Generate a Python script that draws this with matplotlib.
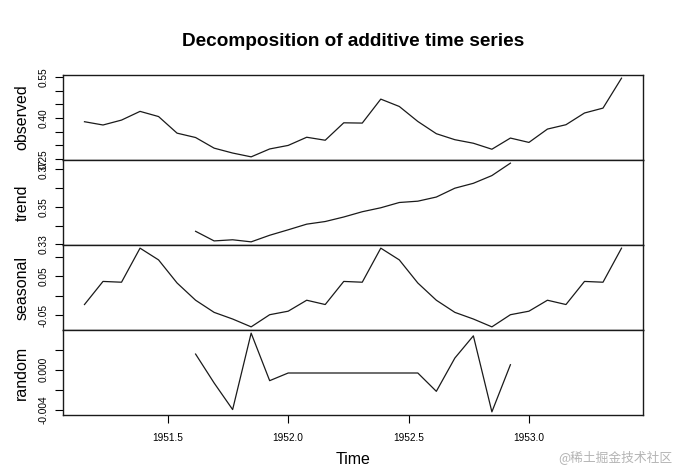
import numpy as np
import matplotlib
matplotlib.use("Agg")
import matplotlib.pyplot as plt

plt.rcParams['font.family'] = ['Liberation Sans', 'DejaVu Sans']

# Series: ts(start = c(1951, 3), frequency = 13), 30 observations
start_year = 1951
start_period = 3
frequency = 13
n_obs = 30

observed = [0.386, 0.374, 0.392, 0.424, 0.405, 0.344, 0.328, 0.289, 0.271, 0.257,
            0.286, 0.299, 0.329, 0.318, 0.382, 0.381, 0.469, 0.442, 0.387, 0.342,
            0.320, 0.307, 0.285, 0.326, 0.310, 0.359, 0.375, 0.418, 0.436, 0.546]

nan = np.nan
trend = [nan, nan, nan, nan, nan, nan,
         0.3370, 0.3319, 0.3325, 0.3314, 0.3349, 0.3378, 0.3408, 0.3422, 0.3446,
         0.3474, 0.3495, 0.3523, 0.3530, 0.3552, 0.3599, 0.3625, 0.3666, 0.3732,
         nan, nan, nan, nan, nan, nan]

seasonal = [-0.022, 0.037, 0.035, 0.122, 0.092, 0.033, -0.011, -0.042, -0.059, -0.079,
            -0.048, -0.039, -0.011, -0.022, 0.037, 0.035, 0.122, 0.092, 0.033, -0.011,
            -0.042, -0.059, -0.079, -0.048, -0.039, -0.011, -0.022, 0.037, 0.035, 0.122]

random = [nan, nan, nan, nan, nan, nan,
          0.00157, -0.00133, -0.00400, 0.00367, -0.00110, -0.00033, -0.00033, -0.00033,
          -0.00033, -0.00033, -0.00033, -0.00033, -0.00033, -0.00217, 0.00117, 0.00340,
          -0.00423, 0.00050,
          nan, nan, nan, nan, nan, nan]

panel_names = ["observed", "trend", "seasonal", "random"]
panel_ticks = [[0.25, 0.30, 0.35, 0.40, 0.45, 0.50, 0.55],
               [0.33, 0.34, 0.35, 0.36, 0.37],
               [-0.05, 0.00, 0.05, 0.10],
               [-0.004, -0.002, 0.000, 0.002]]
panel_ticklabels = [["0.25", "", "", "0.40", "", "", "0.55"],
                    ["0.33", "", "0.35", "", "0.37"],
                    ["-0.05", "", "0.05", ""],
                    ["-0.004", "", "0.000", ""]]
x_ticks = [1951.5, 1952.0, 1952.5, 1953.0]
x_ticklabels = ["1951.5", "1952.0", "1952.5", "1953.0"]

title = "Decomposition of additive time series"

# time index of the ts object
times = start_year + (start_period - 1 + np.arange(n_obs)) / frequency


def r_range(vals):
    # R pads the data range by 4% on each side
    v = np.asarray(vals, dtype=float)
    lo, hi = np.nanmin(v), np.nanmax(v)
    pad = 0.04 * (hi - lo)
    return lo - pad, hi + pad


fig = plt.figure(figsize=(6.76, 4.69), dpi=100)
left, right = 63 / 676, 643 / 676
top, bottom = 1 - 75 / 469, 1 - 415 / 469
h = (top - bottom) / 4

series = [observed, trend, seasonal, random]
xlim = r_range(times)

for i, (name, vals) in enumerate(zip(panel_names, series)):
    ax = fig.add_axes([left, top - (i + 1) * h, right - left, h])
    ax.plot(times, vals, color="#1a1a1a", lw=0.9)
    ax.set_xlim(*xlim)
    ax.set_ylim(*r_range(vals))
    ax.set_yticks(panel_ticks[i])
    ax.set_yticklabels(panel_ticklabels[i], rotation=90, va="center", fontsize=7.3)
    ax.tick_params(axis="y", direction="out", length=6, width=0.8, pad=4.5)
    ax.set_ylabel(name, fontsize=11.5)
    ax.yaxis.set_label_coords(-0.058, 0.5)
    for sp in ax.spines.values():
        sp.set_linewidth(1.0)
        sp.set_color("#1a1a1a")
    if i < 3:
        ax.set_xticks([])
    else:
        ax.set_xticks(x_ticks)
        ax.set_xticklabels(x_ticklabels, fontsize=7.3)
        ax.tick_params(axis="x", direction="out", length=6, width=0.8, pad=7)

fig.text((left + right) / 2, 1 - 41 / 469, title, ha="center", va="center",
         fontsize=13.7, fontweight="bold")
fig.text((left + right) / 2, 1 - 459 / 469, "Time", ha="center", va="center",
         fontsize=11.5)
fig.text(672 / 676, 1 - 457 / 469, "@稀土掘金技术社区", ha="right", va="center",
         fontsize=9.2, color="#b4b4b4",
         family=["Noto Sans CJK SC", "DejaVu Sans"])

fig.savefig("out.png", dpi=100)
